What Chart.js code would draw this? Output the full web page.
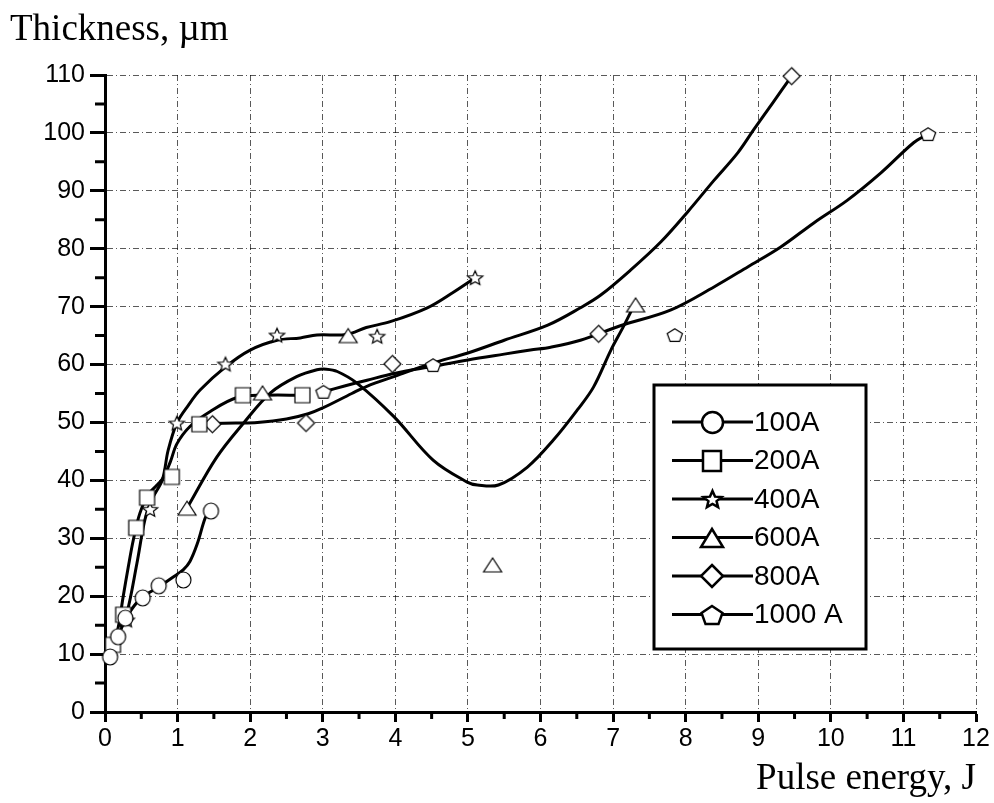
<!DOCTYPE html>
<html>
<head>
<meta charset="utf-8">
<script src="https://cdn.jsdelivr.net/npm/chart.js@4.4.0/dist/chart.umd.min.js"></script>
<style>
  html, body { margin: 0; padding: 0; background: #fff; }
  #wrap { width: 994px; height: 803px; }
</style>
</head>
<body>
<div id="wrap"><canvas id="thicknessChart" width="994" height="803"></canvas></div>
<script>
// measured points (pulse energy J, thickness um)
const energy100 = [0.07, 0.18, 0.28, 0.52, 0.74, 1.08, 1.46];
const thick100 = [9.5, 13.0, 16.2, 19.7, 21.8, 22.8, 34.7];
const energy200 = [0.11, 0.25, 0.43, 0.58, 0.92, 1.30, 1.90, 2.72];
const thick200 = [11.6, 16.8, 31.8, 37.0, 40.6, 49.7, 54.7, 54.7];
const energy400 = [0.30, 0.62, 0.99, 1.66, 2.37, 3.75, 5.10];
const thick400 = [15.9, 35.0, 49.9, 60.1, 65.1, 64.9, 75.0];
const energy600 = [1.13, 2.17, 3.35, 5.34, 7.31];
const thick600 = [35.2, 55.1, 65.0, 25.4, 70.3];
const energy800 = [1.48, 2.77, 3.96, 6.80, 9.46];
const thick800 = [49.7, 49.9, 60.1, 65.3, 109.8];
const energy1000 = [3.01, 4.52, 7.85, 11.34];
const thick1000 = [55.3, 59.9, 65.1, 99.8];

// fitted curves
const fitE100 = [0.07, 0.18, 0.28, 0.40, 0.52, 0.74, 0.94, 1.08, 1.17, 1.27, 1.38, 1.44];
const fitT100 = [9.8, 13.0, 16.0, 18.3, 19.9, 21.6, 23.3, 24.6, 26.0, 29.0, 33.5, 34.7];
const fitE200 = [0.11, 0.18, 0.25, 0.32, 0.39, 0.48, 0.60, 0.79, 0.90, 0.99, 1.17, 1.45, 1.82, 2.20, 2.72];
const fitT200 = [11.6, 14.5, 19.9, 25.0, 29.7, 34.3, 37.6, 40.2, 43.2, 46.3, 49.3, 51.9, 54.3, 54.7, 54.7];
const fitE400 = [0.21, 0.30, 0.44, 0.55, 0.65, 0.79, 0.87, 0.99, 1.15, 1.31, 1.66, 2.00, 2.37, 2.69, 2.92, 3.33, 3.60, 3.93, 4.44, 4.80, 5.10];
const fitT400 = [14.7, 17.0, 25.7, 33.2, 36.8, 40.1, 45.2, 49.9, 53.0, 55.6, 59.6, 62.5, 64.2, 64.6, 65.1, 65.2, 66.4, 67.4, 69.8, 72.5, 75.0];
const fitE600 = [1.13, 1.54, 1.91, 2.28, 2.64, 2.92, 3.05, 3.20, 3.47, 3.98, 4.52, 4.99, 5.13, 5.42, 5.82, 6.18, 6.51, 6.73, 6.97, 7.14, 7.28];
const fitT600 = [35.2, 44.0, 49.9, 55.1, 57.9, 59.1, 59.2, 58.8, 56.8, 51.0, 43.5, 39.7, 39.2, 39.2, 42.3, 47.0, 52.2, 56.1, 62.5, 66.5, 70.0];
const fitE800 = [1.48, 1.80, 2.10, 2.50, 2.80, 3.00, 3.40, 3.60, 4.00, 4.50, 5.00, 5.50, 6.10, 6.55, 6.83, 7.24, 7.66, 8.03, 8.39, 8.72, 8.94, 9.20, 9.46];
const fitT800 = [49.8, 49.9, 50.0, 50.6, 51.5, 52.5, 55.0, 56.2, 58.0, 60.2, 62.0, 64.2, 66.8, 69.8, 72.0, 76.3, 81.2, 86.4, 91.8, 96.6, 100.6, 105.2, 109.8];
const fitE1000 = [3.01, 3.30, 3.61, 4.00, 4.52, 5.00, 5.50, 5.86, 6.14, 6.55, 7.10, 7.79, 8.39, 8.86, 9.31, 9.77, 10.23, 10.69, 11.14, 11.34];
const fitT1000 = [55.3, 56.3, 57.3, 58.5, 59.7, 60.8, 61.8, 62.5, 63.0, 64.2, 66.7, 69.4, 73.4, 76.9, 80.3, 84.5, 88.4, 93.1, 98.3, 99.8];

const seriesNames = ['100A', '200A', '400A', '600A', '800A', '1000 A'];

const pts = (xs, ys) => xs.map((x, i) => ({ x: x, y: ys[i] }));

// hollow marker drawn on a little canvas, used as pointStyle
function makeMarker(shape, w, h, lw) {
  const c = document.createElement('canvas');
  c.width = w + 2 * Math.ceil(lw) + 2;
  c.height = h + 2 * Math.ceil(lw) + 2;
  const ctx = c.getContext('2d');
  ctx.translate(c.width / 2, c.height / 2);
  const rx = w / 2, ry = h / 2;
  ctx.beginPath();
  if (shape === 'circle') {
    ctx.ellipse(0, 0, rx, ry, 0, 0, Math.PI * 2);
  } else if (shape === 'square') {
    ctx.rect(-rx, -ry, w, h);
  } else if (shape === 'diamond') {
    ctx.moveTo(0, -ry); ctx.lineTo(rx, 0); ctx.lineTo(0, ry); ctx.lineTo(-rx, 0); ctx.closePath();
  } else if (shape === 'triangle') {
    ctx.moveTo(0, -ry); ctx.lineTo(rx, ry); ctx.lineTo(-rx, ry); ctx.closePath();
  } else if (shape === 'pentagon' || shape === 'star') {
    const n = shape === 'star' ? 10 : 5;
    const off = ry * 0.1;
    for (let k = 0; k < n; k++) {
      const a = -Math.PI / 2 + k * 2 * Math.PI / n;
      const r = (shape === 'star' && k % 2) ? 0.45 : 1;
      const px = Math.cos(a) * rx * r, py = Math.sin(a) * ry * r + off;
      if (k === 0) ctx.moveTo(px, py); else ctx.lineTo(px, py);
    }
    ctx.closePath();
  }
  ctx.fillStyle = '#fff';
  ctx.fill();
  ctx.lineWidth = lw;
  ctx.strokeStyle = '#000';
  ctx.stroke();
  return c;
}

const shapes = ['circle', 'square', 'star', 'triangle', 'diamond', 'pentagon'];
const plotSizes = [[15, 16], [15, 15], [16, 15], [18, 14], [17, 17], [16, 14]];
const legendSizes = [[21, 21], [18, 20], [19, 18], [22, 18], [22, 22], [22, 20]];
const plotMarkers = shapes.map((s, i) => makeMarker(s, plotSizes[i][0], plotSizes[i][1], 1.2));
const legendMarkers = shapes.map((s, i) => makeMarker(s, legendSizes[i][0], legendSizes[i][1], 2.5));

const measured = [
  pts(energy100, thick100), pts(energy200, thick200), pts(energy400, thick400),
  pts(energy600, thick600), pts(energy800, thick800), pts(energy1000, thick1000)
];
const fits = [
  pts(fitE100, fitT100), pts(fitE200, fitT200), pts(fitE400, fitT400),
  pts(fitE600, fitT600), pts(fitE800, fitT800), pts(fitE1000, fitT1000)
];

const datasets = [];
fits.forEach((d, i) => {
  datasets.push({
    label: seriesNames[i] + ' fit',
    data: d,
    showLine: true,
    borderColor: '#000',
    borderWidth: 3,
    pointRadius: 0,
    tension: 0.35,
    clip: false,
    order: 2
  });
});
measured.forEach((d, i) => {
  datasets.push({
    label: seriesNames[i],
    data: d,
    showLine: false,
    pointStyle: plotMarkers[i],
    pointRadius: 8,
    clip: false,
    order: 1
  });
});

// shorter minor ticks between the labelled ones
const minorTicks = {
  id: 'minorTicks',
  afterDraw(chart) {
    const { ctx, scales: { x, y } } = chart;
    ctx.save();
    ctx.strokeStyle = '#000';
    ctx.lineWidth = 3;
    ctx.beginPath();
    for (let v = 0.5; v < 12; v += 1) {
      const px = x.getPixelForValue(v);
      ctx.moveTo(px, x.top);
      ctx.lineTo(px, x.top + 7);
    }
    for (let v = 5; v < 110; v += 10) {
      const py = y.getPixelForValue(v);
      ctx.moveTo(y.right, py);
      ctx.lineTo(y.right - 10, py);
    }
    ctx.stroke();
    ctx.restore();
  }
};

// boxed legend inside the plot, like the original figure
const boxLegend = {
  id: 'boxLegend',
  afterDraw(chart) {
    const ctx = chart.ctx;
    const left = 654, top = 385, w = 212, h = 264;
    ctx.save();
    ctx.fillStyle = '#fff';
    ctx.fillRect(left, top, w, h);
    ctx.lineWidth = 3;
    ctx.strokeStyle = '#000';
    ctx.strokeRect(left, top, w, h);
    ctx.font = '28px "Liberation Sans", Arial, sans-serif';
    ctx.fillStyle = '#000';
    ctx.textBaseline = 'middle';
    seriesNames.forEach((name, i) => {
      const yy = top + 37 + i * 38.5;
      ctx.beginPath();
      ctx.moveTo(672, yy);
      ctx.lineTo(753, yy);
      ctx.lineWidth = 3;
      ctx.stroke();
      const m = legendMarkers[i];
      ctx.drawImage(m, Math.round(712 - m.width / 2), Math.round(yy - m.height / 2));
      ctx.fillText(name, 754, yy + 1);
    });
    ctx.restore();
  }
};

const tickFont = { family: '"Liberation Sans", Arial, sans-serif', size: 25 };
const titleFont = { family: '"Liberation Serif", "Times New Roman", serif', size: 37, weight: 'normal' };
const gridDash = [6, 3, 1, 3];
const gridColor = 'rgba(0,0,0,0.65)';

const ctx = document.getElementById('thicknessChart').getContext('2d');
const chart = new Chart(ctx, {
  type: 'scatter',
  data: { datasets: datasets },
  options: {
    responsive: false,
    animation: false,
    devicePixelRatio: 1,
    layout: { padding: { left: 10, right: 18, top: 0, bottom: 0 } },
    plugins: {
      legend: { display: false },
      tooltip: { enabled: false },
      title: {
        display: true,
        text: 'Thickness, \u00b5m',
        align: 'start',
        color: '#000',
        font: titleFont,
        padding: { top: 8, bottom: 22.6 }
      }
    },
    scales: {
      x: {
        type: 'linear',
        min: 0,
        max: 12,
        afterFit: (s) => { s.height = 91; },
        ticks: { stepSize: 1, color: '#000', font: tickFont, padding: 2, maxRotation: 0 },
        grid: { color: gridColor, lineWidth: 1, tickLength: 10, tickColor: '#000', tickWidth: 3 },
        border: { display: true, color: '#000', width: 3, dash: gridDash },
        title: {
          display: true,
          text: 'Pulse energy, J',
          align: 'end',
          color: '#000',
          font: titleFont,
          padding: { top: 0, bottom: 2 }
        }
      },
      y: {
        type: 'linear',
        min: 0,
        max: 110,
        afterFit: (s) => { s.width = 95; },
        ticks: { stepSize: 10, color: '#000', font: tickFont, padding: 5 },
        grid: { color: gridColor, lineWidth: 1, tickLength: 15, tickColor: '#000', tickWidth: 3 },
        border: { display: true, color: '#000', width: 3, dash: gridDash }
      }
    }
  },
  plugins: [minorTicks, boxLegend]
});
</script>
</body>
</html>
